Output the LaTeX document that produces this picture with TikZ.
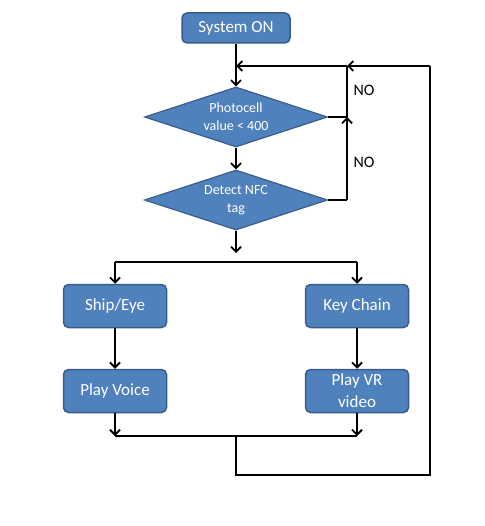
\documentclass[tikz,border=0pt]{standalone}
\usepackage{fontspec}
\setmainfont{Carlito}
\usetikzlibrary{shapes.geometric,arrows.meta}
\definecolor{boxfill}{HTML}{4F81BD}
\definecolor{boxline}{HTML}{385D8A}
\begin{document}
\begin{tikzpicture}[x=1pt,y=-1pt,
  proc/.style={draw=boxline, fill=boxfill, line width=1.5pt, rounded corners=5pt,
    minimum width=103pt, minimum height=43pt, text=white,
    font=\fontsize{17}{22}\selectfont, align=center, inner sep=0pt},
  dec/.style={diamond, draw=boxline, fill=boxfill, line width=1.2pt,
    minimum width=183pt, minimum height=60pt, aspect=3, text=white,
    font=\fontsize{14}{18}\selectfont, align=center, inner sep=0pt},
  lbl/.style={font=\fontsize{16}{18}\selectfont, text=black},
  conn/.style={line width=1.8pt, black},
  arr/.style={conn, -{Straight Barb[length=5pt,width=10pt]}}]
\useasboundingbox[fill=white] (0,0) rectangle (484,526);
\node[proc, minimum width=108pt, minimum height=30pt] (on) at (236,28) {System ON};
\node[dec] (d1) at (236,117) {Photocell\\value < 400};
\node[dec] (d2) at (236,200) {Detect NFC\\tag};
\node[proc] (ship) at (115,306) {Ship/Eye};
\node[proc] (key) at (357,306) {Key Chain};
\node[proc] (voice) at (115,391) {Play Voice};
\node[proc] (vr) at (357,391) {Play VR\\video};
\node[lbl] (no1) at (364,90) {NO};
\node[lbl] (no2) at (364,162) {NO};
\coordinate (j0) at (236,66);
\coordinate (jr) at (347,66);
\coordinate (tr) at (430,66);
\coordinate (m1) at (347,117);
\coordinate (m2) at (347,200);
\coordinate (sp) at (236,253);
\coordinate (sl) at (115,262);
\coordinate (sr) at (357,262);
\coordinate (bl) at (115,436);
\coordinate (bj) at (236,436);
\coordinate (brr) at (357,436);
\coordinate (bm) at (236,475);
\coordinate (br) at (430,475);
\draw[arr] (on) -- (d1);
\draw[arr] (d1) -- (d2);
\draw[arr] (d2) -- (sp);
\draw[conn] (sl) -- (sr);
\draw[arr] (sl) -- (ship);
\draw[arr] (sr) -- (key);
\draw[arr] (ship) -- (voice);
\draw[arr] (key) -- (vr);
\draw[arr] (voice) -- (bl);
\draw[arr] (vr) -- (brr);
\draw[conn] (bl) -- (brr);
\draw[conn] (bj) -- (bm) -- (br) -- (tr);
\draw[arr] (tr) -- (jr);
\draw[arr] (jr) -- (j0);
\draw[conn] (d1.east) -- (m1) -- (jr);
\draw[conn] (d2.east) -- (m2);
\draw[arr] (m2) -- (m1);
\end{tikzpicture}
\end{document}
